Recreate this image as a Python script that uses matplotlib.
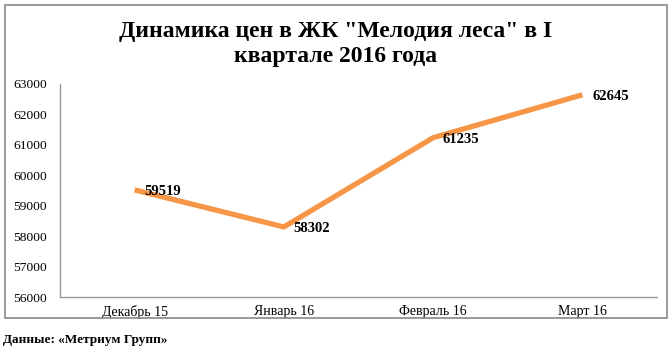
import matplotlib
matplotlib.use("Agg")
import matplotlib.pyplot as plt
from matplotlib.patches import Rectangle

categories = ["Декабрь 15", "Январь 16", "Февраль 16", "Март 16"]
values = [59519, 58302, 61235, 62645]
yticks = [56000, 57000, 58000, 59000, 60000, 61000, 62000, 63000]

plt.rcParams['font.family'] = ['Liberation Serif', 'DejaVu Serif']

fig = plt.figure(figsize=(6.72, 3.52), dpi=100)
fig.patches.append(Rectangle((5/672, 1-318/352), 662/672, 313/352, transform=fig.transFigure,
                             fill=False, edgecolor='#888888', linewidth=1.2))
ax = fig.add_axes([60/672, 1-297/352, 597/672, 213/352])
x = list(range(len(categories)))
ax.plot(x, values, color='#F79646', linewidth=3.8, solid_capstyle='butt')
ax.set_xlim(-0.5, len(categories)-0.5)
ax.set_ylim(56000, 63000)
ax.set_yticks(yticks)
ax.set_yticklabels([str(v) for v in yticks], fontsize=9.7)
ax.set_xticks(x)
ax.set_xticklabels(categories, fontsize=10)
ax.tick_params(length=0, pad=6)
ax.tick_params(axis='y', pad=9.4)
for s in ['top', 'right']:
    ax.spines[s].set_visible(False)
for s in ['left', 'bottom']:
    ax.spines[s].set_color('#999999')
    ax.spines[s].set_linewidth(1)

for xi, v in zip(x, values):
    ax.annotate(str(v), (xi, v), xytext=(7, -1), textcoords='offset points',
                ha='left', va='center', fontsize=10.5, fontweight='bold')

fig.text(336/672, 1-44/352, 'Динамика цен в ЖК "Мелодия леса" в I\nквартале 2016 года',
         ha='center', va='center', fontsize=17, fontweight='bold', linespacing=1.3)
fig.text(3/672, 1-340/352, 'Данные: «Метриум Групп»', ha='left', va='center',
         fontsize=9.5, fontweight='bold')

fig.savefig('out.png', dpi=100)
